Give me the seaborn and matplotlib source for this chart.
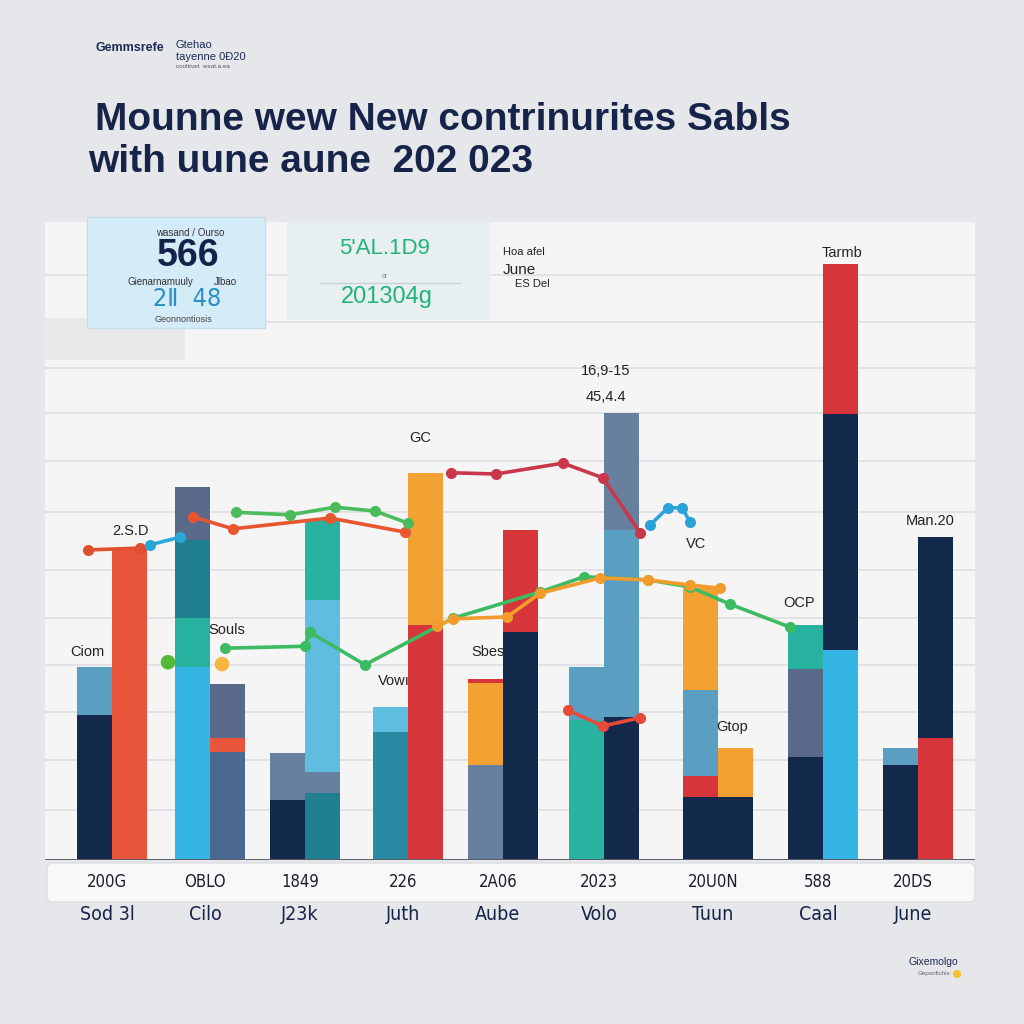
import numpy as np
import pandas as pd
import seaborn as sns
import matplotlib
matplotlib.use("Agg")
import matplotlib.pyplot as plt
from matplotlib.patches import FancyBboxPatch, Rectangle

# ---------------- data ----------------
categories = ["Sod 3l", "Cilo", "J23k", "Juth", "Aube", "Volo", "Tuun", "Caal", "June"]
value_labels = ["200G", "OBLO", "1849", "226", "2A06", "2023", "20U0N", "588", "20DS"]
group_pos = [0.0, 0.973, 1.916, 2.938, 3.881, 4.883, 6.015, 7.057, 8.0]

NAVY, STEEL, ORED, LBLUE = "#13294b", "#5a9fc2", "#e8553a", "#35b5e5"
TGREEN, TEAL, SLATE, SBLUE = "#27b39f", "#1f7f90", "#58698a", "#4a6891"
RED, ORANGE, SKY, DTEAL, GSLATE = "#d6363a", "#f4a134", "#5fbde0", "#2b8aa3", "#67809d"

# stacked segments (bottom -> top) for left and right bar of each group
left_values = [[22.7, 7.5], [30.3, 7.7, 12.2, 8.2], [9.4, 7.4], [20.1, 3.9],
               [14.9, 12.9, 0.6], [21.9, 8.3], [9.9, 3.3, 13.5, 16.0],
               [16.1, 13.8, 6.9], [14.9, 2.7]]
left_colors = [[NAVY, STEEL], [LBLUE, TGREEN, TEAL, SLATE], [NAVY, GSLATE], [DTEAL, SKY],
               [GSLATE, ORANGE, RED], [TGREEN, STEEL], [NAVY, RED, STEEL, ORANGE],
               [NAVY, SLATE, TGREEN], [NAVY, STEEL]]
right_values = [[48.9], [16.9, 2.2, 8.5], [10.5, 3.3, 27.0, 12.5], [36.8, 23.8],
                [35.7, 16.0], [22.4, 29.3, 18.3], [9.9, 7.7], [32.9, 37.0, 23.5],
                [19.1, 31.5]]
right_colors = [[ORED], [SBLUE, ORED, SLATE], [TEAL, GSLATE, SKY, TGREEN], [RED, ORANGE],
                [NAVY, RED], [NAVY, STEEL, GSLATE], [NAVY, ORANGE], [LBLUE, NAVY, RED],
                [RED, NAVY]]

# overlay lines
red_g1_x, red_g1_y = [-0.238, 0.278], [48.6, 48.9]
blue_g1_x, blue_g1_y = [0.377, 0.675], [49.4, 50.6]
orange_top_x, orange_top_y = [0.804, 1.201, 2.164, 2.908], [53.8, 51.9, 53.6, 51.4]
green_top_x, green_top_y = [1.231, 1.767, 2.213, 2.610, 2.938], [54.5, 54.1, 55.3, 54.7, 52.8]
red_up_x, red_up_y = [3.365, 3.811, 4.476, 4.873, 5.241], [60.7, 60.5, 62.2, 59.9, 51.3]
blue_up_x, blue_up_y = [5.340, 5.519, 5.658, 5.737], [52.5, 55.2, 55.2, 53.0]
green_low_x = [1.122, 1.916, 1.965, 2.511, 3.385, 4.248, 4.685, 5.320, 5.737, 6.134, 6.730]
green_low_y = [33.2, 33.5, 35.7, 30.6, 37.9, 42.0, 44.4, 43.9, 42.8, 40.1, 36.5]
orange_low_x = [3.226, 3.385, 3.921, 4.248, 4.844, 5.320, 5.737, 6.035]
orange_low_y = [36.7, 37.8, 38.1, 41.8, 44.2, 43.9, 43.1, 42.6]
small_x, small_y = [4.526, 4.873, 5.241], [23.5, 21.0, 22.3]
dots_x, dots_y = [0.556, 1.092], [31.0, 30.7]

# annotations on plot
notes = [("Ciom", -0.24, 31.5), ("2.S.D", 0.18, 50.5), ("Souls", 1.14, 35.0), ("Vowı", 2.8, 27.0),
         ("GC", 3.06, 65.0), ("Sbes", 3.73, 31.5), ("16,9-15", 4.90, 75.5), ("45,4.4", 4.90, 71.5),
         ("VC", 5.8, 48.5), ("Gtop", 6.16, 19.8), ("OCP", 6.82, 39.2), ("Tarmb", 7.25, 94.0),
         ("Man.20", 8.12, 52.0)]

# ---------------- figure ----------------
sns.set_theme(style="white")
plt.rcParams["font.family"] = ["Liberation Sans", "DejaVu Sans"]

W = 1024
fig = plt.figure(figsize=(10.24, 10.24), dpi=100)
fig.patch.set_facecolor("#e6e7ea")

def fx(px):
    return px / W

def fy(py):
    return 1 - py / W

ax = fig.add_axes([fx(45), fy(860), fx(975) - fx(45), fy(222) - fy(860)])
ax.set_facecolor("#f5f5f6")
ax.set_xlim(-0.665, 8.566)
ax.set_ylim(0, 100)

grid_px = [810, 760, 712, 665, 618, 570, 512, 461, 413, 368, 322, 275]
ax.set_yticks([(860 - p) / 6.38 for p in grid_px])
ax.yaxis.grid(True, color="#dcdde0", lw=1.1)
ax.set_yticklabels([])
ax.tick_params(left=False, bottom=False)
for s in ax.spines.values():
    s.set_visible(False)
ax.set_xticks([])

bw, off = 0.345, 0.172
for i, gp in enumerate(group_pos):
    for vals, cols, sgn in ((left_values[i], left_colors[i], -1), (right_values[i], right_colors[i], 1)):
        bottom = 0
        for v, c in zip(vals, cols):
            ax.bar(gp + sgn * off, v, width=bw, bottom=bottom, color=c, edgecolor="none", zorder=2)
            bottom += v

ax.axhline(0, color="#5a5d66", lw=1.4, zorder=3)

lines = [(red_g1_x, red_g1_y, "#e0502f"), (blue_g1_x, blue_g1_y, "#2aa7d8"),
         (orange_top_x, orange_top_y, "#e8552f"), (green_top_x, green_top_y, "#4cbb5c"),
         (red_up_x, red_up_y, "#c9374a"), (blue_up_x, blue_up_y, "#2ba3d8"),
         (green_low_x, green_low_y, "#3dbb63"), (orange_low_x, orange_low_y, "#f39c2d"),
         (small_x, small_y, "#e84a3a")]
for lx, ly, lc in lines:
    df = pd.DataFrame({"x": lx, "y": ly})
    sns.lineplot(data=df, x="x", y="y", sort=False, color=lc, lw=2.6, marker="o",
                 markersize=8, markeredgewidth=0, ax=ax, zorder=4)
sns.scatterplot(x=dots_x, y=dots_y, color=["#55b93a", "#f7b640"], hue=None, s=110,
                edgecolor="none", ax=ax, zorder=4)
ax.set_xlabel("")
ax.set_ylabel("")

for t, x, y in notes:
    ax.text(x, y, t, fontsize=10.5, color="#222", ha="center", va="bottom", zorder=5)

# header cards (inside the plot panel)
fig.patches.append(Rectangle((fx(45), fy(360)), fx(140), fy(318) - fy(360), transform=fig.transFigure,
                             facecolor="#e9e9ea", edgecolor="none", zorder=1))
fig.patches.append(Rectangle((fx(87), fy(328)), fx(178), fy(217) - fy(328), transform=fig.transFigure,
                             facecolor="#d4ebf8", edgecolor="#c8dbe6", lw=1, zorder=3))
fig.patches.append(Rectangle((fx(287), fy(320)), fx(203), fy(222) - fy(320), transform=fig.transFigure,
                             facecolor="#e7eff0", edgecolor="none", zorder=3))
fig.lines.append(plt.Line2D([fx(320), fx(460)], [fy(283), fy(283)], transform=fig.transFigure,
                            color="#c9d1d3", lw=1, zorder=4))

fig.text(fx(190), fy(233), "wasand / Ourso", fontsize=7, color="#333", ha="center", va="center", zorder=5)
fig.text(fx(188), fy(256), "566", fontsize=27, fontweight="bold", color="#14234a", ha="center", va="center", zorder=5)
fig.text(fx(160), fy(282), "Gienarnamuuly", fontsize=7, color="#333", ha="center", va="center", zorder=5)
fig.text(fx(225), fy(282), "Jlbao", fontsize=7, color="#333", ha="center", va="center", zorder=5)
fig.text(fx(187), fy(299), "2Ⅱ  48", fontsize=18, color="#2a8fc4", ha="center", va="center", zorder=5,
         family=["DejaVu Sans"], fontstretch="condensed")
fig.text(fx(183), fy(320), "Geonnontiosis", fontsize=6.5, color="#444", ha="center", va="center", zorder=5)

fig.text(fx(385), fy(248), "5'AL.1D9", fontsize=16, color="#22b27a", ha="center", va="center", zorder=5)
fig.text(fx(385), fy(276), "or", fontsize=5, color="#888", ha="center", va="center", zorder=5)
fig.text(fx(387), fy(297), "201304g", fontsize=17, color="#22b27a", ha="center", va="center", zorder=5)

fig.text(fx(503), fy(252), "Hoa afel", fontsize=8, color="#222", ha="left", va="center", zorder=5)
fig.text(fx(503), fy(270), "June", fontsize=11, color="#222", ha="left", va="center", zorder=5)
fig.text(fx(515), fy(284), "ES Del", fontsize=8, color="#222", ha="left", va="center", zorder=5)

# value label band and category labels
fig.patches.append(FancyBboxPatch((fx(47), fy(902)), fx(928), fy(863) - fy(902), transform=fig.transFigure,
                                  boxstyle="round,pad=0,rounding_size=0.006", facecolor="#f8f8f9",
                                  edgecolor="#dedfe2", lw=1, zorder=1))
for gp, vl, cat in zip(group_pos, value_labels, categories):
    xd = ax.transData.transform((gp - 0.05, 0))[0] / fig.bbox.width
    fig.text(xd, fy(882), vl, fontsize=12, color="#1b1f2a", ha="center", va="center",
             family=["DejaVu Sans"], fontstretch="condensed")
    fig.text(xd, fy(915), cat, fontsize=14, color="#172449", ha="center", va="center",
             family=["DejaVu Sans"], fontstretch="condensed")

# title
fig.text(fx(95), fy(120), "Mounne wew New contrinurites Sabls", fontsize=28, fontweight="bold",
         color="#172449", ha="left", va="center")
fig.text(fx(88), fy(162), "with uune aune  202 023", fontsize=28, fontweight="bold",
         color="#172449", ha="left", va="center")

# logos
fig.text(fx(95), fy(48), "Gemmsrefe", fontsize=9, fontweight="bold", color="#1c2a55", ha="left", va="center")
fig.text(fx(176), fy(45), "Gtehao", fontsize=8, color="#1c2a55", ha="left", va="center")
fig.text(fx(176), fy(57), "tayenne 0Đ20", fontsize=8, color="#1c2a55", ha="left", va="center")
fig.text(fx(176), fy(67), "cooltruvt  wsat.a.ea", fontsize=4.5, color="#555", ha="left", va="center")
fig.text(fx(958), fy(962), "Gixemolgo", fontsize=7.5, color="#1c2a55", ha="right", va="center")
fig.text(fx(950), fy(974), "Gepsofichis", fontsize=4.5, color="#666", ha="right", va="center")
fig.patches.append(plt.Circle((fx(957), fy(974)), 0.004, transform=fig.transFigure,
                              facecolor="#f2c230", edgecolor="none"))

fig.savefig("out.png", dpi=100, facecolor=fig.get_facecolor())
